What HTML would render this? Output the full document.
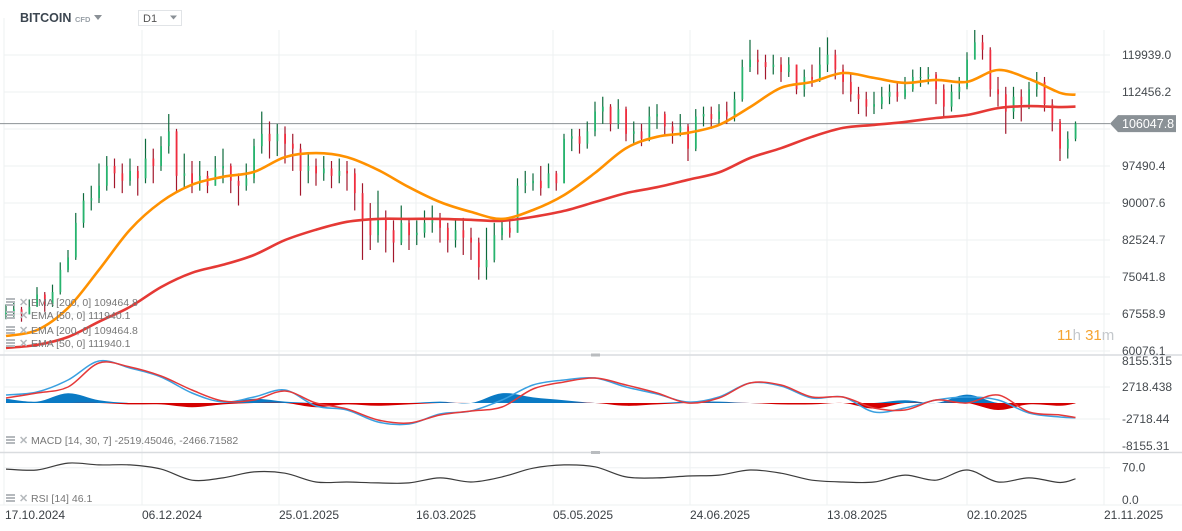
<!DOCTYPE html>
<html><head><meta charset="utf-8"><style>
html,body{margin:0;padding:0;background:#fff;}
svg{display:block;font-family:"Liberation Sans",sans-serif;}
</style></head><body>
<svg id="chart" width="1182" height="531" viewBox="0 0 1182 531" xmlns="http://www.w3.org/2000/svg">
<rect x="0" y="0" width="1182" height="531" fill="#fff"/>
<g id="grid"></g>
<g id="marks"></g>
<g id="axes"></g>
<g>
<text x="20" y="22" font-size="12.5" font-weight="bold" fill="#3c4650">BITCOIN</text>
<text x="75" y="22" font-size="7.5" font-weight="bold" fill="#9aa1a8">CFD</text>
<path d="M94 15 L102 15 L98 20 Z" fill="#8a9096"/>
<rect x="138.5" y="10.5" width="43" height="15" fill="#fff" stroke="#e1e4e7"/>
<text x="143" y="22" font-size="11" fill="#555">D1</text>
<path d="M170 15.5 L177 15.5 L173.5 19.5 Z" fill="#8a9096"/>
</g>
</svg>
<script>
// ---- price data (thousands USD), one candle per index ----
const closes=[68,68.5,67.5,69,71.5,69.5,72,76.5,79,86,90.5,91,93.5,97.5,96,94.5,96.5,95,99,97.5,101.5,104.5,95.5,96,94,95.5,93.5,97,97.5,94.5,93.5,95,101.5,104,102.5,104,102,101,96.5,97.5,96,97,95.5,96.5,96,92,86.5,83.5,87,84.5,82,86,83.5,84,86,87,85,82.5,84.5,83,82,77,78.5,83.5,85,84,93.5,94,94.5,93,96,94,103,103.5,102,104.5,108.5,109.5,106,109,104,104.5,103,107.5,108,105.5,104.5,105.5,101,107.5,108,107,108.5,107.5,111,117.5,119,118.5,117.5,118,116.5,118,113,115.5,115,118,120,117,114.5,112,111,109.5,110,111.5,112.5,111.5,113,115.5,115.5,116,113,109.5,112.5,113.5,119,122.5,121,113,112,108.5,111.5,110,113,114.5,110,106.5,101,103,106.05];
const highs=[69.5,70,69,70.5,73,72,73.5,78,80.5,88,92,93.5,98,99.5,99,98,99,97.5,103,101,103.5,108,105,100,98.5,98.5,96.5,99.5,101,98,96,98,103,108.5,106.5,106,105.5,104,102,100,99,99.5,98.5,99,98.5,97,94,90,92.5,88.5,86.5,89.5,87,86.5,88.5,89.5,88,86,86.5,87,85,83,85,86,87,86.5,95,96.5,96,97.5,98,96.5,104,105,105,106.5,110.5,111.5,110,111,109.5,106.5,106,109.5,110,108.5,106.5,108,106,109,109.5,109.5,110,110.5,112.5,119,123,121,120,120,119.5,119.5,118,117,118,121.5,123.5,121,118,116,113.5,112.5,112.5,113.5,114,114.5,115.5,117,117.5,117.5,116.5,114,114,115.5,120.5,125,124,121.5,115.5,113.5,113.5,113,114.5,116.5,115.5,111,107,104.5,106.5];
const lows=[66.5,67,66,67.5,69.5,68,69,71.5,76,78.5,85,88.5,90,92.5,93,92,93.5,91.5,94,94,96.5,100,92.5,93,92,92.5,92,93.5,94,92,89.5,92.5,94,100,99,99.5,98,96.5,91.5,94,93.5,94.5,93,94,92.5,88.5,78.5,80.5,82,80,78,81.5,80.5,81.5,83,84,82,80,81,79.5,78.5,74.5,74.5,78,82.5,83,84,92,92.5,91.5,93.5,92.5,94,100.5,100,101,103.5,106,104.5,105,102.5,102,101.5,102.5,105,103.5,102,103.5,98.5,100.5,105.5,105,106,106,106.5,110.5,116.5,116,115,116,114.5,115.5,112,111.5,113.5,114.5,116.5,115,112,110.5,108,107.5,108,109,110,110.5,111,112.5,113.5,114,110,107.5,108.5,111,113,119.5,119,111.5,109.5,104,107,106.5,109,111.5,108.5,104.5,98.5,99,102.5];
const firstOpen=67.5;
// EMA samples, every 4th candle (last one = final candle)
const ema50=[63.1,64.3,68.8,76.5,84.6,90.2,93.7,95.3,96.3,99.3,100.1,99.3,96.7,93.2,90.2,88.2,86.8,88.6,91.6,96.1,101.1,103.4,104.2,105.8,109.4,113.3,114.5,116.3,115.3,114.3,114.9,114.5,116.9,115.1,112.3,111.9];
const ema200=[60.7,61.3,62.9,66,69,73,75.9,77.5,79.5,82.5,84.6,86.2,86.8,86.8,86.8,86.6,86.4,87.2,88.4,90.2,92,93.2,94.7,96.2,99.1,101.1,103.4,105.2,105.8,106.4,107.2,107.8,109.2,109.6,109.4,109.5];
// MACD (14,30,7) samples, every 4th candle
const macdLine=[1359,1869,3908,7136,5947,4418,1699,170,1019,2209,-510,-1189,-3228,-3568,-1869,-1359,510,3058,3908,4248,2718,1529,170,1019,3398,2888,850,1019,-1529,-850,510,1019,510,-1699,-2379,-2519];
const signalLine=[850,1699,2718,6796,6116,4587,2209,340,510,2039,0,-1019,-2888,-3398,-2039,-1359,-680,2379,3568,4248,3058,1699,0,850,3398,3058,1019,1019,-850,-1189,510,0,1359,-1529,-2039,-2467];
// RSI(14) samples, every 4th candle
const rsi=[67,65,80,76,76,67,43,48,61,58,39,39,37,37,48,39,50,69,76,72,50,48,52,54,65,58,43,39,39,54,43,65,39,48,38,46];
// axis ticks
const priceTicks=[119939.0,112456.2,97490.4,90007.6,82524.7,75041.8,67558.9,60076.1];
const priceGrid=[119939.0,112456.2,104973.3,97490.4,90007.6,82524.7,75041.8,67558.9,60076.1];
const macdTicks=[8155.315,2718.438,-2718.44,-8155.31];
const rsiTicks=[70.0,0.0];
const dateLabels=["17.10.2024","06.12.2024","25.01.2025","16.03.2025","05.05.2025","24.06.2025","13.08.2025","02.10.2025","21.11.2025"];
const lastPrice=106047.8;

const NS="http://www.w3.org/2000/svg";
function mk(tag,attrs,parent,text){const e=document.createElementNS(NS,tag);for(const k in attrs)e.setAttribute(k,attrs[k]);if(text!==undefined)e.textContent=text;parent.appendChild(e);return e;}
const grid=document.getElementById('grid'),marks=document.getElementById('marks'),axes=document.getElementById('axes');
const xC=i=>6+i*7.75;
const xS=k=>xC(Math.min(k*4,closes.length-1));
const yP=p=>55+(119939.0-p)*37/7482.85;
const yK=k=>yP(k*1000);
const yM=v=>403-v*0.005886;
const yR=v=>500-v*0.4614;
const dateX=[5,142,279,416,553,690,827,967,1104];

function smoothPath(pts){
  let d='M'+pts[0][0].toFixed(1)+' '+pts[0][1].toFixed(1);
  for(let i=0;i<pts.length-1;i++){
    const p0=pts[Math.max(0,i-1)],p1=pts[i],p2=pts[i+1],p3=pts[Math.min(pts.length-1,i+2)];
    const c1x=p1[0]+(p2[0]-p0[0])/6,c1y=p1[1]+(p2[1]-p0[1])/6;
    const c2x=p2[0]-(p3[0]-p1[0])/6,c2y=p2[1]-(p3[1]-p1[1])/6;
    d+=' C'+c1x.toFixed(1)+' '+c1y.toFixed(1)+' '+c2x.toFixed(1)+' '+c2y.toFixed(1)+' '+p2[0].toFixed(1)+' '+p2[1].toFixed(1);
  }
  return d;
}

priceGrid.forEach(p=>{const l=mk('line',{x1:4,x2:1110,y1:yP(p),y2:yP(p),stroke:'#eef0f2','stroke-width':1},grid);

});
[2718.438,-2718.44].forEach(v=>{const l=mk('line',{x1:4,x2:1110,y1:yM(v),y2:yM(v),stroke:'#eef0f2'},grid);

});
const rl=mk('line',{x1:4,x2:1110,y1:yR(70),y2:yR(70),stroke:'#eef0f2'},grid);


dateX.forEach((x,i)=>{if(i===0)return;const l=mk('line',{x1:x,x2:x,y1:30,y2:505,stroke:'#eef0f2'},grid);

});
mk('line',{x1:4,x2:4,y1:18,y2:505,stroke:'#eef0f2'},grid);
mk('line',{x1:0,x2:1182,y1:505,y2:505,stroke:'#eef0f2'},grid);
[355,452.5].forEach(y=>{const l=mk('line',{x1:0,x2:1182,y1:y,y2:y,stroke:'#d9dcdf','stroke-width':1.5},axes);


const h=mk('rect',{x:591,y:y-1.5,width:9,height:3,fill:'#b9bcbf'},axes);

});

const cp=mk('line',{x1:0,x2:1110,y1:yP(lastPrice),y2:yP(lastPrice),stroke:'#8d9296','stroke-width':1},marks);



const cg=mk('g',{},marks);


closes.forEach((c,i)=>{
  const o=i===0?firstOpen:closes[i-1];
  const up=c>=o;const x=xC(i);
  const g=mk('g',{},cg);
  
  
  mk('line',{x1:x,x2:x,y1:yK(highs[i]),y2:yK(lows[i]),stroke:up?'#0e6b3d':'#a3172c','stroke-width':1.2},g);
  const t=yK(Math.max(o,c)),b=yK(Math.min(o,c));
  mk('rect',{x:x-0.8,y:t,width:1.8,height:Math.max(1,b-t),fill:up?'#27b46e':'#f02d3f'},g);
});
function line(arr,xf,yf,color,w,name){
  const p=mk('path',{d:smoothPath(arr.map((v,k)=>[xf(k),yf(v)])),fill:'none',stroke:color,'stroke-width':w,'stroke-linejoin':'round'},marks);
  
  
  return p;
}
line(ema200,xS,yK,'#e53935',2.6,'ema-200-line');
line(ema50,xS,yK,'#ff9100',2.6,'ema-50-line');

// MACD histogram as filled areas (positive blue / negative red)
function histArea(sign,color,name){
  const pts=macdLine.map((m,k)=>{const h=(m-signalLine[k])*1.4;return [xS(k),yM(sign>0?Math.max(h,0):Math.min(h,0))];});
  const d=smoothPath(pts)+' L'+xS(macdLine.length-1).toFixed(1)+' '+yM(0)+' L'+xS(0)+' '+yM(0)+' Z';
  const p=mk('path',{d:d,fill:color,stroke:'none'},marks);
  
  
}
histArea(1,'#0a7ac4','macd-histogram-positive');
histArea(-1,'#d40000','macd-histogram-negative');
line(macdLine,xS,yM,'#3aa0e0',1.5,'macd-line');
line(signalLine,xS,yM,'#e53939',1.5,'macd-signal-line');
line(rsi,xS,yR,'#3c3c3c',1.2,'rsi-line');

priceTicks.forEach(p=>{const t=mk('text',{x:1122,y:yP(p)+4,'font-size':12,fill:'#454a4f'},axes,p.toFixed(1));

});
macdTicks.forEach((v,i)=>{const ys=[361,387,419,446];const t=mk('text',{x:1122,y:ys[i]+4,'font-size':12,fill:'#454a4f'},axes,String(v));

});
rsiTicks.forEach(v=>{const t=mk('text',{x:1122,y:yR(v)+4,'font-size':12,fill:'#454a4f'},axes,v.toFixed(1));

});
dateLabels.forEach((d,i)=>{const t=mk('text',{x:dateX[i],y:519,'font-size':12,fill:'#3a3f44'},axes,d);

});
const yl=yP(lastPrice);
const bd=mk('path',{d:`M1110 ${yl} L1118 ${yl-8.5} L1176 ${yl-8.5} L1176 ${yl+8.5} L1118 ${yl+8.5} Z`,fill:'#8a9196'},axes);


const bt=mk('text',{x:1122,y:yl+4.5,'font-size':12.5,fill:'#fff'},axes,lastPrice.toFixed(1));



function legend(y,txt,name){
  const g=mk('g',{},axes);
  
  
  mk('rect',{x:6,y:y-8,width:9,height:2,fill:'#b5b9bd'},g);
  mk('rect',{x:6,y:y-5,width:9,height:2,fill:'#b5b9bd'},g);
  mk('rect',{x:6,y:y-2,width:9,height:2,fill:'#b5b9bd'},g);
  mk('text',{x:19,y:y,'font-size':11,'font-weight':'bold',fill:'#b5b9bd'},g,'✕');
  mk('text',{x:31,y:y,'font-size':10.5,fill:'#777'},g,txt);
}
legend(306,'EMA  [200,  0]  109464.8','legend-ema-200');
legend(319,'EMA  [50,  0]  111940.1','legend-ema-50');
legend(334,'EMA  [200,  0]  109464.8','legend-ema-200-b');
legend(347,'EMA  [50,  0]  111940.1','legend-ema-50-b');
legend(444,'MACD  [14,  30,  7]  -2519.45046,   -2466.71582','legend-macd');
legend(502,'RSI  [14]  46.1','legend-rsi');
const cd=mk('text',{x:1057,y:340,'font-size':15},axes);


mk('tspan',{fill:'#f5a431'},cd,'11');mk('tspan',{fill:'#c4c8cc'},cd,'h ');
mk('tspan',{fill:'#f5a431'},cd,'31');mk('tspan',{fill:'#c4c8cc'},cd,'m');
</script>
</body></html>
